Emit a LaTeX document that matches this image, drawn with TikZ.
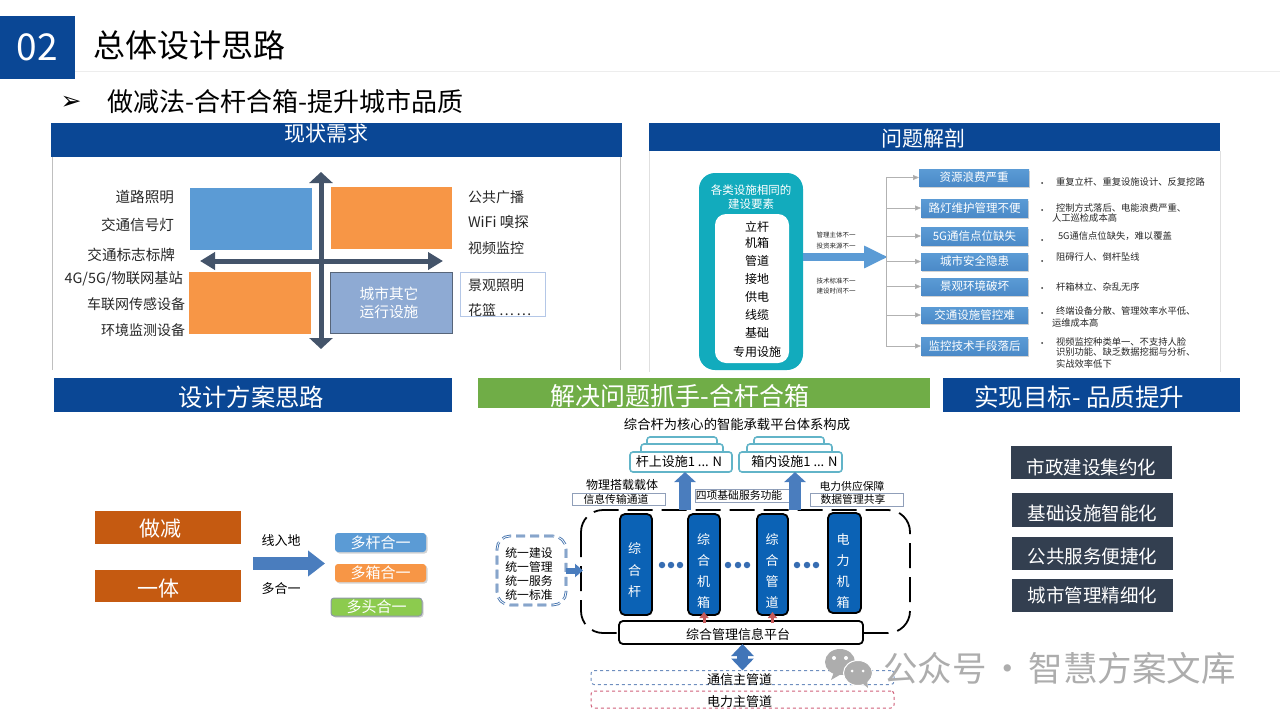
\documentclass[tikz,border=0pt]{standalone}
\usepackage{fontspec}
\setmainfont{Noto Sans CJK SC}
\newfontfamily\symfont{DejaVu Sans}
\usetikzlibrary{arrows.meta,shadows}
\definecolor{navy}{HTML}{0A4795}
\definecolor{leaf}{HTML}{70AD47}
\definecolor{sky}{HTML}{5B9BD5}
\definecolor{tang}{HTML}{F79646}
\definecolor{slate}{HTML}{44546A}
\definecolor{ashen}{HTML}{333F50}
\definecolor{rust}{HTML}{C55A11}
\definecolor{teal}{HTML}{12ABBD}
\definecolor{cobalt}{HTML}{0B62B5}
\definecolor{steel}{HTML}{4A7DBE}
\definecolor{haze}{HTML}{8EAAD3}
\definecolor{mist}{HTML}{B4C7E7}
\definecolor{lagoon}{HTML}{62B4C8}
\definecolor{lime}{HTML}{8CCB4E}
\definecolor{rosy}{HTML}{C65B5B}
\definecolor{pipeblue}{HTML}{6F8FBF}
\definecolor{pipered}{HTML}{D0607A}
\newcommand{\fs}[1]{\fontsize{#1}{#1}\selectfont}
\tikzset{
  box/.style={inner sep=0pt,outer sep=0pt,align=center},
  lbl/.style={inner sep=0pt,outer sep=0pt,text=black!85},
  bar/.style={box,fill=navy},
  bartext/.style={box,text=white},
  issue/.style={box,top color=sky,bottom color=sky!80!navy,text=white,font=\fs{11.5},drop shadow={shadow xshift=1pt,shadow yshift=-1.5pt,opacity=.35}},
  pill/.style={box,rounded corners=3pt,text=white,font=\fs{15},drop shadow={shadow xshift=1.5pt,shadow yshift=-1.5pt,opacity=.35}},
  goal/.style={box,fill=ashen,text=white,font=\fs{18.5},minimum width=161pt},
  column/.style={box,fill=cobalt,draw=black,line width=1.8pt,rounded corners=5pt},
  coltext/.style={box,text=white,font=\fs{13},text depth=0pt},
  layer/.style={box,fill=white,draw=lagoon,line width=1.6pt,rounded corners=3pt},
  note/.style={box,draw=mist!80!black,line width=1pt,fill=white},
  branch/.style={draw=black!30,line width=.8pt,-{Triangle[length=6pt,width=5pt,fill=black!35]}},
  bigarrow/.style={line width=5pt,slate},
  tiny/.style={lbl,font=\fs{6.5}},
  fine/.style={lbl,anchor=west,font=\fs{9.3}},
  dot/.style={circle,fill=#1,inner sep=0pt,minimum size=6.5pt},
  lowtext/.style={text height=#1,text depth=0pt},
}
\begin{document}
\begin{tikzpicture}[x=1pt,y=-1pt,>=Stealth]
\useasboundingbox (0,0) rectangle (1280,720);
% page heading
\draw[black!7,line width=1pt] (75,71) -- (1280,71);
\node[box,fill=navy,text=white,minimum width=75pt,minimum height=63pt,font=\fs{37}] (num) at (37.5,47.5) {02};
\node[box,anchor=west,font=\fs{32}] (title) at (93,45) {总体设计思路};
\node[box,font=\symfont\fs{25}] (mark) at (71,103) {➢};
\node[box,anchor=west,font=\fs{26}] (subtitle) at (107,102) {做减法-合杆合箱-提升城市品质};

% status panel
\node[bar,minimum width=571pt,minimum height=34pt] (statebar) at (336.5,140) {};
\node[bartext,font=\fs{21}] (statehead) at (326,134) {现状需求};
\draw[black!25,line width=.8pt] (statebar.south west) ++(1,0) -- ++(0,213);
\draw[black!25,line width=.8pt] (statebar.south east) ++(-2,0) -- ++(0,213);
\node[box,fill=sky,minimum width=122pt,minimum height=62pt] (q1) at (251,219) {};
\node[box,fill=tang,minimum width=121pt,minimum height=62pt] (q2) at (391.5,218) {};
\node[box,fill=tang,minimum width=122pt,minimum height=62pt] (q3) at (250,303) {};
\node[box,fill=haze,draw=slate!90,line width=.8pt,text=white,font=\fs{14.7},minimum width=122pt,minimum height=61pt,text depth=0pt] (q4) at (391,302.5) {\hspace*{-4pt}城市其它\\[3.5pt]\hspace*{-4pt}运行设施};
\coordinate (vtop) at (321,172);
\coordinate (vbot) at (321,349);
\coordinate (hleft) at (200,261);
\coordinate (hright) at (443,261);
\draw[bigarrow,{Triangle[length=11pt,width=23pt]}-{Triangle[length=11pt,width=23pt]}] (vtop) -- (vbot);
\draw[bigarrow,{Triangle[length=15pt,width=17pt]}-{Triangle[length=15pt,width=17pt]}] (hleft) -- (hright);
\node[lbl,anchor=east,font=\fs{14.6}] (l1) at (174,197) {道路照明};
\node[lbl,anchor=east,font=\fs{14.6}] (l2) at (174,225) {交通信号灯};
\node[lbl,anchor=east,font=\fs{14.6}] (l3) at (175,255) {交通标志标牌};
\node[lbl,anchor=east,font=\fs{14.3}] (l4) at (183,279) {4G/5G/物联网基站};
\node[lbl,anchor=east,font=\fs{14}] (l5) at (185,304) {车联网传感设备};
\node[lbl,anchor=east,font=\fs{14}] (l6) at (185,330) {环境监测设备};
\node[lbl,anchor=west,font=\fs{14}] (r1) at (468,197) {公共广播};
\node[lbl,anchor=west,font=\fs{14.5}] (r2) at (468,222) {WiFi 嗅探};
\node[lbl,anchor=west,font=\fs{14}] (r3) at (468,248) {视频监控};
\node[box,draw=mist,line width=1pt,minimum width=85pt,minimum height=44pt] (rbox) at (502.5,294) {};
\node[lbl,anchor=west,font=\fs{14}] (r4) at (468,285) {景观照明};
\node[lbl,anchor=west,font=\fs{14}] (r5) at (468,310) {花篮 …\,…};

% problem panel
\node[bar,minimum width=571pt,minimum height=28pt] (probbar) at (934.5,137) {};
\node[bartext,font=\fs{21}] (probhead) at (923,139) {问题解剖};
\draw[black!12,line width=.8pt] (probbar.south west) -- ++(0,221);
\draw[black!12,line width=.8pt] (probbar.south east) -- ++(0,221);
\node[box,fill=teal,rounded corners=16pt,minimum width=104pt,minimum height=197pt] (src) at (751,271.5) {};
\node[bartext,font=\fs{11.5},text depth=0pt] (srchead) at (751,196.5) {各类设施相同的\\[2pt]建设要素};
\node[box,fill=white,rounded corners=11pt,minimum width=74pt,minimum height=149pt] (srcin) at (752,288.5) {};
\node[box,font=\fs{12}] (e1) at (757,227) {立杆};
\node[box,font=\fs{12}] (e2) at (757,243) {机箱};
\node[box,font=\fs{12}] (e3) at (757,261) {管道};
\node[box,font=\fs{12}] (e4) at (757,279) {接地};
\node[box,font=\fs{12}] (e5) at (757,297) {供电};
\node[box,font=\fs{12}] (e6) at (757,315) {线缆};
\node[box,font=\fs{12}] (e7) at (757,333) {基础};
\node[box,font=\fs{12}] (e8) at (757,352) {专用设施};
\coordinate (treetip) at (888,257);
\draw[line width=8pt,sky,-{Triangle[length=24pt,width=21pt]}] (src.east |- treetip) -- (treetip);
\node[tiny] (c1) at (836,235) {管理主体不一};
\node[tiny] (c2) at (836,246) {投资来源不一};
\node[tiny] (c3) at (836,281) {技术标准不一};
\node[tiny] (c4) at (836,291) {建设时间不一};
\coordinate (ttop) at (886,177.5);
\coordinate (tbot) at (886,346);
\draw[black!30,line width=.8pt] (ttop) -- (tbot);
\node[issue,minimum width=110pt,minimum height=17pt] (i1) at (974,177.5) {资源浪费严重};
\node[issue,minimum width=107pt,minimum height=18pt] (i2) at (974.5,208) {路灯维护管理不便};
\node[issue,minimum width=107pt,minimum height=18pt] (i3) at (974.5,236) {5G通信点位缺失};
\node[issue,minimum width=107pt,minimum height=17pt] (i4) at (974.5,261.5) {城市安全隐患};
\node[issue,minimum width=107pt,minimum height=17pt] (i5) at (974.5,286.5) {景观环境破坏};
\node[issue,minimum width=107pt,minimum height=16pt] (i6) at (974.5,315) {交通设施管控难};
\node[issue,minimum width=107pt,minimum height=18pt] (i7) at (974.5,346) {监控技术手段落后};
\draw[branch] (ttop) -- (i1.west);
\draw[branch] (tbot) -- (i7.west);
\draw[branch] (ttop |- i2.west) -- (i2.west);
\draw[branch] (ttop |- i3.west) -- (i3.west);
\draw[branch] (ttop |- i4.west) -- (i4.west);
\draw[branch] (ttop |- i5.west) -- (i5.west);
\draw[branch] (ttop |- i6.west) -- (i6.west);
\node[dot=black!80,minimum size=2pt] (b1) at (1042,183) {};
\node[dot=black!80,minimum size=2pt] (b2) at (1042,210) {};
\node[dot=black!80,minimum size=2pt] (b3) at (1042,240) {};
\node[dot=black!80,minimum size=2pt] (b4) at (1042,261) {};
\node[dot=black!80,minimum size=2pt] (b5) at (1042,288) {};
\node[dot=black!80,minimum size=2pt] (b6) at (1042,313) {};
\node[dot=black!80,minimum size=2pt] (b7) at (1042,343) {};
\node[fine] (t1) at (1056,182) {重复立杆、重复设施设计、反复挖路};
\node[fine] (t2) at (1056,208) {控制方式落后、电能浪费严重、};
\node[fine] (t2b) at (1052,218) {人工巡检成本高};
\node[fine] (t3) at (1058,236) {5G通信点位缺失，难以覆盖};
\node[fine] (t4) at (1056,257) {阻碍行人、倒杆坠线};
\node[fine] (t5) at (1056,287) {杆箱林立、杂乱无序};
\node[fine] (t6) at (1056,311) {终端设备分散、管理效率水平低、};
\node[fine] (t6b) at (1052,323) {运维成本高};
\node[fine] (t7) at (1056,342) {视频监控种类单一、不支持人脸};
\node[fine] (t7b) at (1056,352) {识别功能、缺乏数据挖掘与分析、};
\node[fine] (t7c) at (1056,364) {实战效率低下};

% lower headings
\node[bar,minimum width=398pt,minimum height=34pt] (planbar) at (253,395) {};
\node[bartext,font=\fs{24.3}] (planhead) at (251,397) {设计方案思路};
\node[box,fill=leaf,minimum width=452pt,minimum height=30pt] (keybar) at (704,393) {};
\node[bartext,font=\fs{25}] (keyhead) at (680,396) {解决问题抓手-合杆合箱};
\node[bar,minimum width=297pt,minimum height=34pt] (goalbar) at (1091.5,395) {};
\node[bartext,font=\fs{24.5}] (goalhead) at (1079,397) {实现目标- 品质提升};

% design idea
\node[box,fill=rust,minimum width=146pt,minimum height=33pt] (cut) at (168,527) {};
\node[bartext,font=\fs{21}] (cuttext) at (160,529) {做减};
\node[box,fill=rust,minimum width=146pt,minimum height=32pt] (one) at (168,586) {};
\node[bartext,font=\fs{21}] (onetext) at (158,589) {一体};
\node[box,font=\fs{13}] (lin) at (281,541) {线入地};
\node[box,font=\fs{13}] (lmany) at (281,589) {多合一};
\coordinate (ideatail) at (253,563.5);
\coordinate (ideatip) at (325,563.5);
\draw[line width=13pt,steel,-{Triangle[length=17pt,width=25pt]}] (ideatail) -- (ideatip);
\node[pill,fill=sky,minimum width=91pt,minimum height=19pt] (m1) at (380.5,542.5) {多杆合一};
\node[pill,fill=tang,minimum width=91pt,minimum height=18pt] (m2) at (380.5,573) {多箱合一};
\node[pill,fill=lime,draw=slate!60,line width=1pt,minimum width=91pt,minimum height=18pt] (m3) at (376.5,607) {多头合一};

% carrier system
\node[box,font=\fs{13.3}] (systitle) at (737,424) {综合杆为核心的智能承载平台体系构成};
\node[layer,minimum width=70pt,minimum height=10pt] (a3) at (682,442) {};
\node[layer,minimum width=82pt,minimum height=10pt] (a2) at (682,449) {};
\node[layer,minimum width=102pt,minimum height=20pt,font=\fs{13}] (a1) at (681,462) {\hspace*{-4pt}杆上设施1 ... N};
\node[layer,minimum width=70pt,minimum height=10pt] (d3) at (789,442) {};
\node[layer,minimum width=85pt,minimum height=10pt] (d2) at (789.5,449) {};
\node[layer,minimum width=103pt,minimum height=20pt,font=\fs{13}] (d1) at (790.5,462) {\hspace*{8pt}箱内设施1 ... N};
\node[box,font=\fs{12}] (n1) at (622,485) {物理搭载载体};
\node[note,font=\fs{10.8},minimum width=93pt,minimum height=12pt,text height=9pt,text depth=1pt] (n2) at (618.5,499) {\hspace*{-5pt}信息传输通道};
\node[note,font=\fs{10.8},minimum width=97pt,minimum height=13pt,text height=9pt,text depth=1pt] (n3) at (743.5,495.5) {\hspace*{-9pt}四项基础服务功能};
\node[box,font=\fs{10.8}] (n4) at (852,486) {电力供应保障};
\node[note,font=\fs{10.8},minimum width=93pt,minimum height=13pt,text height=9pt,text depth=1pt] (n5) at (856.5,499.5) {\hspace*{-7pt}数据管理共享};
\draw[line width=1.8pt,black,dash pattern=on 25pt off 9pt,rounded corners=22pt] (581,510) rectangle (910,633);
\coordinate (up1base) at (685,510);
\coordinate (up2base) at (795,510);
\draw[line width=12pt,steel,-{Triangle[length=10pt,width=21pt]}] (up1base) -- (a1.south -| up1base);
\draw[line width=12pt,steel,-{Triangle[length=10pt,width=21pt]}] (up2base) -- (d1.south -| up2base);
\node[column,minimum width=32pt,minimum height=101pt] (k1) at (636,564.5) {};
\node[column,minimum width=32pt,minimum height=101pt] (k2) at (704,564.5) {};
\node[column,minimum width=31pt,minimum height=101pt] (k3) at (772.5,564.5) {};
\node[column,minimum width=33pt,minimum height=100pt] (k4) at (844.5,563) {};
\node[coltext] (k1t) at (634.5,570) {综\\[8.5pt]合\\[8.5pt]杆};
\node[coltext] (k2t) at (703.5,571) {综\\[8pt]合\\[8pt]机\\[8pt]箱};
\node[coltext] (k3t) at (772,571) {综\\[8pt]合\\[8pt]管\\[8pt]道};
\node[coltext] (k4t) at (843,571) {电\\[8pt]力\\[8pt]机\\[8pt]箱};
\node[dot=steel!70!navy] (g1) at (662,565) {};
\node[dot=steel!70!navy] (g2) at (671,565) {};
\node[dot=steel!70!navy] (g3) at (680,565) {};
\node[dot=steel!70!navy] (g4) at (728,565) {};
\node[dot=steel!70!navy] (g5) at (738,565) {};
\node[dot=steel!70!navy] (g6) at (747,565) {};
\node[dot=steel!70!navy] (g7) at (797,565) {};
\node[dot=steel!70!navy] (g8) at (807,565) {};
\node[dot=steel!70!navy] (g9) at (816,565) {};
\node[box,fill=white,draw=black,line width=1.8pt,rounded corners=4pt,font=\fs{13},minimum width=244pt,minimum height=23pt,lowtext=14pt] (mgmt) at (741,632.5) {\hspace*{-6pt}综合管理信息平台};
\draw[line width=3pt,rosy,shorten >=-3pt,shorten <=-2pt,-{Triangle[length=6pt,width=9pt]}] (mgmt.north -| k2) -- (k2.south);
\draw[line width=3pt,rosy,shorten >=-3pt,shorten <=-2pt,-{Triangle[length=6pt,width=9pt]}] (mgmt.north -| k3) -- (k3.south);
\node[box,draw=pipeblue,line width=1pt,dashed,rounded corners=3pt,minimum width=303pt,minimum height=13pt,font=\fs{13},lowtext=14pt] (pipe1) at (742.5,677.5) {\hspace*{-6pt}通信主管道};
\node[box,draw=pipered,line width=1pt,dashed,rounded corners=3pt,minimum width=303pt,minimum height=17pt,font=\fs{13},lowtext=14pt] (pipe2) at (742.5,699.5) {\hspace*{-6pt}电力主管道};
\draw[line width=11pt,steel!85!navy,{Triangle[length=12pt,width=22pt]}-{Triangle[length=12pt,width=22pt]}] (mgmt.south -| pipe1) -- (pipe1.north);
\node[box,draw=navy!75,line width=2.6pt,dash pattern=on 9pt off 5pt,rounded corners=13pt,minimum width=69pt,minimum height=69pt] (unify) at (531.5,570.5) {};
\node[box,draw=white,line width=.8pt,dash pattern=on 9pt off 5pt,rounded corners=13pt,minimum width=69pt,minimum height=69pt] (unifyin) at (531.5,570.5) {};
\node[box,font=\fs{11.8},text depth=0pt] (unifytext) at (529,573.5) {统一建设\\[2.5pt]统一管理\\[2.5pt]统一服务\\[2.5pt]统一标准};
\draw[line width=6pt,steel,-{Triangle[length=8pt,width=13pt]}] (unify.east) -- (583,570.5);

% goals
\node[goal,minimum height=33pt,lowtext=23pt] (o1) at (1091.5,462.5) {市政建设集约化};
\node[goal,minimum height=34pt,lowtext=20pt] (o2) at (1092.5,510) {基础设施智能化};
\node[goal,minimum height=33pt,lowtext=19pt] (o3) at (1092.5,553.5) {公共服务便捷化};
\node[goal,minimum height=33pt] (o4) at (1092.5,595.5) {城市管理精细化};

% watermark
\fill[black!32] (840,662) ellipse (15pt and 13pt);
\fill[black!32] (834,672) -- (831,680) -- (843,673) -- cycle;
\draw[white,fill=black!32,line width=1pt] (858,673) ellipse (14.5pt and 12.5pt);
\fill[black!32] (862,683) -- (868,688) -- (867,680) -- cycle;
\node[dot=white,minimum size=4pt] (e1a) at (834,658) {};
\node[dot=white,minimum size=4pt] (e1b) at (846,658) {};
\node[dot=white,minimum size=3pt] (e2a) at (852,671) {};
\node[dot=white,minimum size=3pt] (e2b) at (863,671) {};
\node[box,anchor=west,text=black!32,font=\fs{34.5}] (wm) at (883,668) {公众号\hspace{4pt}·\hspace{4pt}智慧方案文库};
\end{tikzpicture}
\end{document}
